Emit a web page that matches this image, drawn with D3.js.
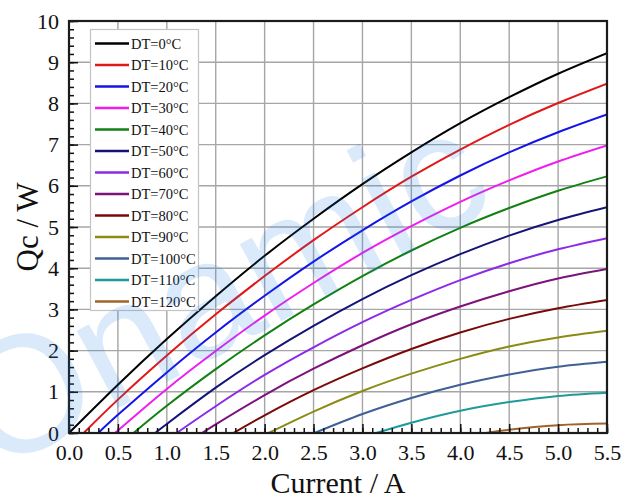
<!DOCTYPE html>
<html>
<head>
<meta charset="utf-8">
<script src="https://cdn.jsdelivr.net/npm/d3@7"></script>
<style>
  html, body { margin: 0; padding: 0; background: #fff; }
  svg { display: block; }
</style>
</head>
<body>
<svg id="chart" width="635" height="498"></svg>
<script>
// Temperature differences (°C), one curve each
const deltaT = [0, 10, 20, 30, 40, 50, 60, 70, 80, 90, 100, 110, 120];
const curveColors = ["#000000", "#e01818", "#1414e8", "#ee1eee", "#128012", "#141478",
                     "#8a2be8", "#7c127c", "#7a0a0a", "#8a8a14", "#3f6096", "#1f9a9a", "#a0642a"];

// Current at which each curve leaves Qc = 0 (A)
const zeroCurrent = [0, 0.15, 0.30, 0.47, 0.66, 0.88, 1.10, 1.36, 1.68, 2.04, 2.51, 3.14, 4.26];

// Sample currents (A) and cooling power Qc (W) at those currents
const currentSteps = [0.5, 1.0, 1.5, 2.0, 2.5, 3.0, 3.5, 4.0, 4.5, 5.0, 5.5];
const qc0   = [1.17, 2.28, 3.32, 4.30, 5.20, 6.04, 6.81, 7.52, 8.15, 8.72, 9.22];
const qc10  = [0.81, 1.88, 2.88, 3.81, 4.68, 5.48, 6.22, 6.88, 7.48, 8.01, 8.48];
const qc20  = [0.44, 1.47, 2.44, 3.33, 4.16, 4.92, 5.62, 6.25, 6.81, 7.30, 7.73];
const qc30  = [null, 1.07, 1.99, 2.85, 3.64, 4.37, 5.02, 5.61, 6.13, 6.59, 6.98];
const qc40  = [null, 0.66, 1.55, 2.37, 3.12, 3.81, 4.43, 4.98, 5.46, 5.88, 6.23];
const qc50  = [null, 0.22, 1.10, 1.89, 2.60, 3.25, 3.83, 4.34, 4.79, 5.17, 5.48];
const qc60  = [null, null, 0.65, 1.41, 2.08, 2.69, 3.23, 3.71, 4.12, 4.46, 4.73];
const qc70  = [null, null, 0.21, 0.92, 1.56, 2.13, 2.64, 3.07, 3.44, 3.75, 3.98];
const qc80  = [null, null, null, 0.43, 1.04, 1.57, 2.04, 2.44, 2.77, 3.03, 3.23];
const qc90  = [null, null, null, null, 0.52, 1.02, 1.44, 1.80, 2.10, 2.32, 2.48];
const qc100 = [null, null, null, null, null, 0.46, 0.85, 1.17, 1.42, 1.61, 1.73];
const qc110 = [null, null, null, null, null, null, 0.25, 0.54, 0.75, 0.90, 0.98];
const qc120 = [null, null, null, null, null, null, null, null, 0.08, 0.19, 0.23];
const qcSeries = [qc0, qc10, qc20, qc30, qc40, qc50, qc60, qc70, qc80, qc90, qc100, qc110, qc120];

// Axis ticks
const xTicks = [0.0, 0.5, 1.0, 1.5, 2.0, 2.5, 3.0, 3.5, 4.0, 4.5, 5.0, 5.5];
const yTicks = [0, 1, 2, 3, 4, 5, 6, 7, 8, 9, 10];

const svg = d3.select("#chart");
const margin = { top: 21, right: 28, bottom: 65, left: 69 };
const W = 635, H = 498;
const x = d3.scaleLinear().domain([0, 5.5]).range([margin.left, W - margin.right]);
const y = d3.scaleLinear().domain([0, 10]).range([H - margin.bottom, margin.top]);
const serif = "'Liberation Serif', 'Times New Roman', serif";

svg.append("clipPath").attr("id", "plot-clip")
  .append("rect")
  .attr("x", x(0)).attr("y", y(10))
  .attr("width", x(5.5) - x(0)).attr("height", y(0) - y(10));

// grid
const grid = svg.append("g").attr("stroke", "#a6a6a6").attr("stroke-width", 1.4);
grid.selectAll("line.gx").data(xTicks.slice(1, -1)).join("line")
  .attr("x1", d => x(d)).attr("x2", d => x(d))
  .attr("y1", y(0)).attr("y2", y(10));
grid.selectAll("line.gy").data(yTicks.slice(1, -1)).join("line")
  .attr("x1", x(0)).attr("x2", x(5.5))
  .attr("y1", d => y(d)).attr("y2", d => y(d));

// curves
const series = deltaT.map((dt, k) => {
  const pts = [{ i: zeroCurrent[k], q: 0 }];
  qcSeries[k].forEach((v, j) => { if (v !== null) pts.push({ i: currentSteps[j], q: v }); });
  return { dt, color: curveColors[k], pts };
});
const line = d3.line().x(d => x(d.i)).y(d => y(d.q)).curve(d3.curveNatural);
svg.append("g").attr("clip-path", "url(#plot-clip)")
  .selectAll("path").data(series).join("path")
  .attr("fill", "none")
  .attr("stroke", d => d.color)
  .attr("stroke-width", 2)
  .attr("d", d => line(d.pts));

// axes with inward ticks
const minorX = d3.range(0, 56).map(v => v / 10);
const minorY = d3.range(0, 51).map(v => v / 5);
const xAxis = svg.append("g").attr("transform", `translate(0,${y(0)})`);
xAxis.call(d3.axisBottom(x).tickValues(minorX).tickSize(-5).tickFormat(""));
xAxis.call(g => g.select(".domain").remove());
const xMajor = svg.append("g").attr("transform", `translate(0,${y(0)})`)
  .call(d3.axisBottom(x).tickValues(xTicks).tickSize(-9).tickPadding(11).tickFormat(d3.format(".1f")));
xMajor.select(".domain").remove();
xMajor.selectAll("text").attr("font-family", serif).attr("font-size", 22).attr("fill", "#111");

const yAxis = svg.append("g").attr("transform", `translate(${x(0)},0)`);
yAxis.call(d3.axisLeft(y).tickValues(minorY).tickSize(-5).tickFormat(""));
yAxis.call(g => g.select(".domain").remove());
const yMajor = svg.append("g").attr("transform", `translate(${x(0)},0)`)
  .call(d3.axisLeft(y).tickValues(yTicks).tickSize(-9).tickPadding(10).tickFormat(d3.format("d")));
yMajor.select(".domain").remove();
yMajor.selectAll("text").attr("font-family", serif).attr("font-size", 22).attr("fill", "#111");
svg.selectAll(".tick line").attr("stroke", "#111").attr("stroke-width", 1.5);

// frame
svg.append("rect")
  .attr("x", x(0)).attr("y", y(10))
  .attr("width", x(5.5) - x(0)).attr("height", y(0) - y(10))
  .attr("fill", "none").attr("stroke", "#1c1c1c").attr("stroke-width", 2.2);

// axis titles
svg.append("text")
  .attr("x", (x(0) + x(5.5)) / 2).attr("y", 493)
  .attr("text-anchor", "middle")
  .attr("font-family", serif).attr("font-size", 30).attr("fill", "#111")
  .text("Current / A");
svg.append("text")
  .attr("transform", `translate(38,${(y(0) + y(10)) / 2}) rotate(-90)`)
  .attr("text-anchor", "middle")
  .attr("font-family", serif).attr("font-size", 31).attr("fill", "#111")
  .text("Qc / W");

// legend
const legend = svg.append("g");
legend.append("rect")
  .attr("x", 90.5).attr("y", 29.5).attr("width", 108).attr("height", 281)
  .attr("fill", "#fff").attr("stroke", "#c4c4c4").attr("stroke-width", 1.2);
const rowY = d3.scaleLinear().domain([0, 12]).range([43.5, 301.5]);
const rows = legend.selectAll("g.row").data(series).join("g")
  .attr("transform", (d, k) => `translate(0,${rowY(k)})`);
rows.append("line")
  .attr("x1", 95).attr("x2", 129).attr("y1", 0).attr("y2", 0)
  .attr("stroke", d => d.color).attr("stroke-width", 2.6);
rows.append("text")
  .attr("x", 131).attr("y", 5)
  .attr("font-family", serif).attr("font-size", 14.5).attr("fill", "#111")
  .text(d => `DT=${d.dt}°C`);

// watermark
svg.append("text")
  .attr("transform", "translate(-6,474) rotate(-28)")
  .attr("font-family", "'Liberation Sans', Arial, sans-serif")
  .attr("font-size", 166)
  .attr("fill", "rgb(22,122,228)")
  .attr("fill-opacity", 0.16)
  .attr("pointer-events", "none")
  .text("Onamic");
</script>
</body>
</html>
